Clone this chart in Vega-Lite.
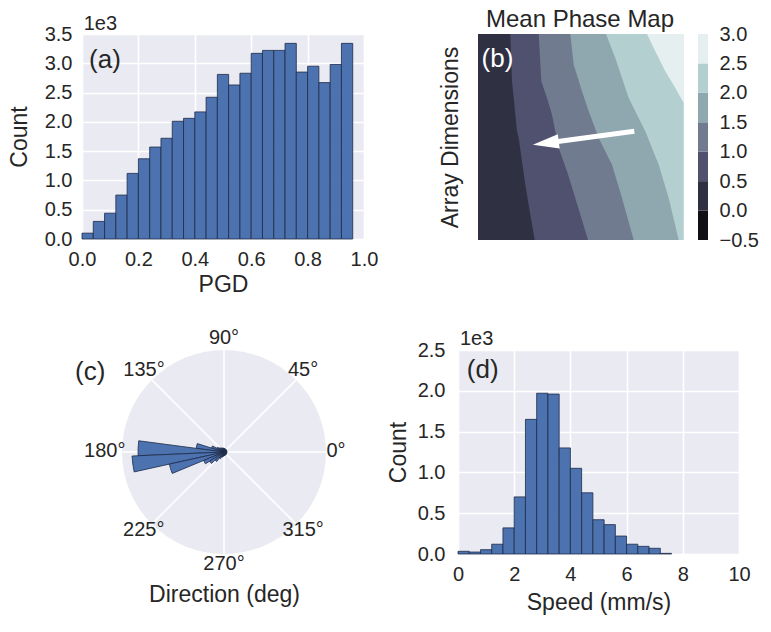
{
  "$schema": "https://vega.github.io/schema/vega-lite/v6.json",
  "padding": {"left": 8, "top": 8, "right": 5, "bottom": 5},
  "background": "white",
  "config": {
    "font": "Liberation Sans",
    "view": {"stroke": null},
    "axis": {
      "labelFont": "Liberation Sans", "titleFont": "Liberation Sans",
      "labelFontSize": 20, "titleFontSize": 23, "titleFontWeight": "normal",
      "labelColor": "#262626", "titleColor": "#262626",
      "ticks": false, "domain": false, "gridColor": "#FFFFFF", "gridWidth": 1.6,
      "labelPadding": 10, "titlePadding": 7, "labelFlush": false, "labelOverlap": false
    },
    "text": {"font": "Liberation Sans"}
  },
  "datasets": {
    "pgd": [
      {"lo": 0.00, "hi": 0.04, "count": 100}, {"lo": 0.04, "hi": 0.08, "count": 300},
      {"lo": 0.08, "hi": 0.12, "count": 440}, {"lo": 0.12, "hi": 0.16, "count": 750},
      {"lo": 0.16, "hi": 0.20, "count": 1120}, {"lo": 0.20, "hi": 0.24, "count": 1370},
      {"lo": 0.24, "hi": 0.28, "count": 1570}, {"lo": 0.28, "hi": 0.32, "count": 1720},
      {"lo": 0.32, "hi": 0.36, "count": 2010}, {"lo": 0.36, "hi": 0.40, "count": 2060},
      {"lo": 0.40, "hi": 0.44, "count": 2170}, {"lo": 0.44, "hi": 0.48, "count": 2420},
      {"lo": 0.48, "hi": 0.52, "count": 2810}, {"lo": 0.52, "hi": 0.56, "count": 2630},
      {"lo": 0.56, "hi": 0.60, "count": 2830}, {"lo": 0.60, "hi": 0.64, "count": 3170},
      {"lo": 0.64, "hi": 0.68, "count": 3220}, {"lo": 0.68, "hi": 0.72, "count": 3220},
      {"lo": 0.72, "hi": 0.76, "count": 3340}, {"lo": 0.76, "hi": 0.80, "count": 2850},
      {"lo": 0.80, "hi": 0.84, "count": 2950}, {"lo": 0.84, "hi": 0.88, "count": 2670},
      {"lo": 0.88, "hi": 0.92, "count": 2980}, {"lo": 0.92, "hi": 0.96, "count": 3340}
    ],
    "speed": [
      {"lo": 0.0, "hi": 0.4, "count": 33}, {"lo": 0.4, "hi": 0.8, "count": 24},
      {"lo": 0.8, "hi": 1.2, "count": 53}, {"lo": 1.2, "hi": 1.6, "count": 120},
      {"lo": 1.6, "hi": 2.0, "count": 320}, {"lo": 2.0, "hi": 2.4, "count": 700},
      {"lo": 2.4, "hi": 2.8, "count": 1650}, {"lo": 2.8, "hi": 3.2, "count": 1970},
      {"lo": 3.2, "hi": 3.6, "count": 1960}, {"lo": 3.6, "hi": 4.0, "count": 1300},
      {"lo": 4.0, "hi": 4.4, "count": 1050}, {"lo": 4.4, "hi": 4.8, "count": 750},
      {"lo": 4.8, "hi": 5.2, "count": 420}, {"lo": 5.2, "hi": 5.6, "count": 360},
      {"lo": 5.6, "hi": 6.0, "count": 220}, {"lo": 6.0, "hi": 6.4, "count": 120},
      {"lo": 6.4, "hi": 6.8, "count": 94}, {"lo": 6.8, "hi": 7.2, "count": 70},
      {"lo": 7.2, "hi": 7.6, "count": 8}
    ],
    "phase": [
      {"level": "2.5", "y": 0, "x": 206}, {"level": "2.5", "y": 206, "x": 206},
      {"level": "2.0", "y": 0, "x": 169}, {"level": "2.0", "y": 17.3, "x": 177.3},
      {"level": "2.0", "y": 37.3, "x": 187.3}, {"level": "2.0", "y": 54, "x": 197.3},
      {"level": "2.0", "y": 69, "x": 205.7}, {"level": "2.0", "y": 206, "x": 205.7},
      {"level": "1.5", "y": 0, "x": 128}, {"level": "1.5", "y": 24, "x": 137.3},
      {"level": "1.5", "y": 64, "x": 150.7}, {"level": "1.5", "y": 97.3, "x": 167.3},
      {"level": "1.5", "y": 130.7, "x": 180.7}, {"level": "1.5", "y": 164, "x": 190.7},
      {"level": "1.5", "y": 206, "x": 200.7},
      {"level": "1.0", "y": 0, "x": 92.3}, {"level": "1.0", "y": 30.7, "x": 95.7},
      {"level": "1.0", "y": 57.3, "x": 104}, {"level": "1.0", "y": 77.3, "x": 110.7},
      {"level": "1.0", "y": 104, "x": 120.7}, {"level": "1.0", "y": 130.7, "x": 134},
      {"level": "1.0", "y": 164, "x": 144}, {"level": "1.0", "y": 206, "x": 155.7},
      {"level": "0.5", "y": 0, "x": 60.7}, {"level": "0.5", "y": 47.3, "x": 63.3},
      {"level": "0.5", "y": 64, "x": 69}, {"level": "0.5", "y": 80.7, "x": 74},
      {"level": "0.5", "y": 114, "x": 80.7}, {"level": "0.5", "y": 137.3, "x": 89},
      {"level": "0.5", "y": 164, "x": 97.3}, {"level": "0.5", "y": 206, "x": 110},
      {"level": "0.0", "y": 0, "x": 32.3}, {"level": "0.0", "y": 47.3, "x": 34},
      {"level": "0.0", "y": 64, "x": 35.7}, {"level": "0.0", "y": 97.3, "x": 39},
      {"level": "0.0", "y": 104, "x": 40.7}, {"level": "0.0", "y": 150.7, "x": 47.3},
      {"level": "0.0", "y": 180.7, "x": 52.3}, {"level": "0.0", "y": 206, "x": 56.7}
    ],
    "cbar": [
      {"level": "-0.5", "lo": -0.5, "hi": 0.0}, {"level": "0.0", "lo": 0.0, "hi": 0.5},
      {"level": "0.5", "lo": 0.5, "hi": 1.0}, {"level": "1.0", "lo": 1.0, "hi": 1.5},
      {"level": "1.5", "lo": 1.5, "hi": 2.0}, {"level": "2.0", "lo": 2.0, "hi": 2.5},
      {"level": "2.5", "lo": 2.5, "hi": 3.0}
    ],
    "grid": [
      {"x": 0, "y": 0, "x2": 1, "y2": 0}, {"x": 0, "y": 0, "x2": 0.7071, "y2": 0.7071},
      {"x": 0, "y": 0, "x2": 0, "y2": 1}, {"x": 0, "y": 0, "x2": -0.7071, "y2": 0.7071},
      {"x": 0, "y": 0, "x2": -1, "y2": 0}, {"x": 0, "y": 0, "x2": -0.7071, "y2": -0.7071},
      {"x": 0, "y": 0, "x2": 0, "y2": -1}, {"x": 0, "y": 0, "x2": 0.7071, "y2": -0.7071}
    ],
    "clabels": [
      {"label": "0°", "x": 1.098, "y": 0.005}, {"label": "45°", "x": 0.775, "y": 0.807},
      {"label": "90°", "x": 0.0, "y": 1.118}, {"label": "135°", "x": -0.784, "y": 0.807},
      {"label": "180°", "x": -1.169, "y": 0.005}, {"label": "225°", "x": -0.787, "y": -0.768},
      {"label": "270°", "x": 0.0, "y": -1.095}, {"label": "315°", "x": 0.776, "y": -0.768}
    ],
    "dir": [
      {"lo": 2.5, "hi": 12.5, "count": 30}, {"lo": 12.5, "hi": 22.5, "count": 30},
      {"lo": 22.5, "hi": 32.5, "count": 30}, {"lo": 32.5, "hi": 42.5, "count": 30},
      {"lo": 42.5, "hi": 52.5, "count": 30}, {"lo": 52.5, "hi": 62.5, "count": 30},
      {"lo": 62.5, "hi": 72.5, "count": 30}, {"lo": 72.5, "hi": 82.5, "count": 35},
      {"lo": 82.5, "hi": 92.5, "count": 35}, {"lo": 92.5, "hi": 102.5, "count": 40},
      {"lo": 102.5, "hi": 112.5, "count": 40}, {"lo": 112.5, "hi": 122.5, "count": 45},
      {"lo": 122.5, "hi": 132.5, "count": 50}, {"lo": 132.5, "hi": 142.5, "count": 60},
      {"lo": 142.5, "hi": 152.5, "count": 80}, {"lo": 152.5, "hi": 162.5, "count": 130},
      {"lo": 162.5, "hi": 172.5, "count": 280}, {"lo": 172.5, "hi": 182.5, "count": 860},
      {"lo": 182.5, "hi": 192.5, "count": 920}, {"lo": 192.5, "hi": 202.5, "count": 560},
      {"lo": 202.5, "hi": 212.5, "count": 220}, {"lo": 212.5, "hi": 222.5, "count": 170},
      {"lo": 222.5, "hi": 232.5, "count": 120}, {"lo": 232.5, "hi": 242.5, "count": 75},
      {"lo": 242.5, "hi": 252.5, "count": 55}, {"lo": 252.5, "hi": 262.5, "count": 45},
      {"lo": 262.5, "hi": 272.5, "count": 40}, {"lo": 272.5, "hi": 282.5, "count": 35},
      {"lo": 282.5, "hi": 292.5, "count": 35}, {"lo": 292.5, "hi": 302.5, "count": 30},
      {"lo": 302.5, "hi": 312.5, "count": 30}, {"lo": 312.5, "hi": 322.5, "count": 30},
      {"lo": 322.5, "hi": 332.5, "count": 30}, {"lo": 332.5, "hi": 342.5, "count": 30},
      {"lo": 342.5, "hi": 352.5, "count": 30}, {"lo": 352.5, "hi": 362.5, "count": 30}
    ]
  },
  "columns": 2,
  "spacing": {"row": 110, "column": 92},
  "bounds": "flush",
  "concat": [
    {
      "width": 282, "height": 205,
      "view": {"fill": "#EAEAF2", "stroke": null},
      "layer": [
        {
          "data": {"name": "pgd"},
          "mark": {"type": "rect", "fill": "#4C72B0", "stroke": "#1E2B47", "strokeWidth": 0.8},
          "encoding": {
            "x": {"field": "lo", "type": "quantitative", "scale": {"domain": [0, 1]},
                  "axis": {"values": [0, 0.2, 0.4, 0.6, 0.8, 1.0], "format": ".1f", "title": "PGD", "titlePadding": 4}},
            "x2": {"field": "hi"},
            "y": {"field": "count", "type": "quantitative", "scale": {"domain": [0, 3500]},
                  "axis": {"values": [0, 500, 1000, 1500, 2000, 2500, 3000, 3500],
                           "labelExpr": "format(datum.value / 1000, '.1f')", "title": "Count", "titlePadding": 13}},
            "y2": {"datum": 0}
          }
        },
        {
          "data": {"values": [{}]},
          "mark": {"type": "text", "text": "(a)", "fontSize": 26, "color": "#262626"},
          "encoding": {
            "x": {"datum": 0.0816, "scale": {"domain": [0, 1]},
                  "axis": {"values": [0, 0.2, 0.4, 0.6, 0.8, 1.0], "format": ".1f", "title": "PGD", "titlePadding": 4}},
            "y": {"datum": 3061, "scale": {"domain": [0, 3500]},
                  "axis": {"values": [0, 500, 1000, 1500, 2000, 2500, 3000, 3500],
                           "labelExpr": "format(datum.value / 1000, '.1f')", "title": "Count", "titlePadding": 13}}
          }
        },
        {
          "data": {"values": [{}]},
          "mark": {"type": "text", "text": "1e3", "fontSize": 20, "color": "#262626", "align": "left", "baseline": "alphabetic"},
          "encoding": {
            "x": {"datum": 0.006, "scale": {"domain": [0, 1]},
                  "axis": {"values": [0, 0.2, 0.4, 0.6, 0.8, 1.0], "format": ".1f", "title": "PGD", "titlePadding": 4}},
            "y": {"datum": 3573, "scale": {"domain": [0, 3500]},
                  "axis": {"values": [0, 500, 1000, 1500, 2000, 2500, 3000, 3500],
                           "labelExpr": "format(datum.value / 1000, '.1f')", "title": "Count", "titlePadding": 13}}
          }
        }
      ]
    },
    {
      "width": 250, "height": 206,
      "resolve": {"scale": {"y": "independent"}},
      "layer": [
        {
          "data": {"name": "phase"},
          "encoding": {
            "x": {"field": "x", "type": "quantitative", "stack": null, "scale": {"domain": [-20, 230]}, "axis": null},
            "y": {"field": "y", "type": "quantitative", "scale": {"domain": [0, 206], "reverse": true},
                  "axis": {"title": "Array Dimensions", "labels": false, "grid": false, "titlePadding": -4}}
          },
          "layer": [
            {"transform": [{"filter": "datum.level == '2.5'"}], "mark": {"type": "area", "orient": "horizontal", "opacity": 1},
             "encoding": {"color": {"field": "level", "type": "nominal", "legend": null,
               "scale": {"domain": ["-0.5", "0.0", "0.5", "1.0", "1.5", "2.0", "2.5"],
                         "range": ["#101016", "#303043", "#50506F", "#707B8F", "#8FA7AF", "#B4CFCF", "#E6EFEF"]}}}},
            {"transform": [{"filter": "datum.level == '2.0'"}], "mark": {"type": "area", "orient": "horizontal", "opacity": 1},
             "encoding": {"color": {"field": "level", "type": "nominal", "legend": null}}},
            {"transform": [{"filter": "datum.level == '1.5'"}], "mark": {"type": "area", "orient": "horizontal", "opacity": 1},
             "encoding": {"color": {"field": "level", "type": "nominal", "legend": null}}},
            {"transform": [{"filter": "datum.level == '1.0'"}], "mark": {"type": "area", "orient": "horizontal", "opacity": 1},
             "encoding": {"color": {"field": "level", "type": "nominal", "legend": null}}},
            {"transform": [{"filter": "datum.level == '0.5'"}], "mark": {"type": "area", "orient": "horizontal", "opacity": 1},
             "encoding": {"color": {"field": "level", "type": "nominal", "legend": null}}},
            {"transform": [{"filter": "datum.level == '0.0'"}], "mark": {"type": "area", "orient": "horizontal", "opacity": 1},
             "encoding": {"color": {"field": "level", "type": "nominal", "legend": null}}}
          ]
        },
        {
          "data": {"name": "cbar"},
          "mark": {"type": "rect"},
          "encoding": {
            "x": {"datum": 220, "scale": {"domain": [-20, 230]}},
            "x2": {"datum": 230},
            "y": {"field": "lo", "type": "quantitative", "scale": {"domain": [-0.5, 3.0]},
                  "axis": {"orient": "right", "values": [-0.5, 0, 0.5, 1, 1.5, 2, 2.5, 3], "format": ".1f",
                           "title": null, "grid": false, "labelPadding": 11}},
            "y2": {"field": "hi"},
            "color": {"field": "level", "type": "nominal", "legend": null}
          }
        },
        {
          "data": {"values": [{}]},
          "mark": {"type": "rule", "color": "#FFFFFF", "strokeWidth": 5},
          "encoding": {
            "x": {"datum": 156.3, "scale": {"domain": [-20, 230]}},
            "y": {"datum": 97.3, "scale": {"domain": [0, 206], "reverse": true}, "axis": null},
            "x2": {"datum": 78}, "y2": {"datum": 107.7}
          }
        },
        {
          "data": {"values": [{}]},
          "mark": {"type": "point", "shape": "M-1,0L1,-0.55L1,0.55Z", "size": 680, "filled": true,
                   "fill": "#FFFFFF", "opacity": 1, "strokeWidth": 0, "angle": -7.6},
          "encoding": {
            "x": {"datum": 67.8, "scale": {"domain": [-20, 230]}},
            "y": {"datum": 109, "scale": {"domain": [0, 206], "reverse": true}, "axis": null}
          }
        },
        {
          "data": {"values": [{}]},
          "mark": {"type": "text", "text": "(b)", "fontSize": 26, "color": "#FFFFFF"},
          "encoding": {
            "x": {"datum": 19.5, "scale": {"domain": [-20, 230]}},
            "y": {"datum": 25, "scale": {"domain": [0, 206], "reverse": true}, "axis": null}
          }
        },
        {
          "data": {"values": [{}]},
          "mark": {"type": "text", "text": "Mean Phase Map", "fontSize": 24, "color": "#262626", "align": "center", "baseline": "alphabetic"},
          "encoding": {
            "x": {"datum": 102, "scale": {"domain": [-20, 230]}},
            "y": {"datum": -6.7, "scale": {"domain": [0, 206], "reverse": true}, "axis": null}
          }
        }
      ]
    },
    {
      "width": 284, "height": 204,
      "layer": [
        {
          "data": {"values": [{}]},
          "mark": {"type": "arc", "theta": 0, "theta2": 6.2832, "radius": 102, "fill": "#EAEAF2"},
          "encoding": {}
        },
        {
          "data": {"name": "grid"},
          "mark": {"type": "rule", "color": "#FFFFFF", "strokeWidth": 1.6},
          "encoding": {
            "x": {"field": "x", "type": "quantitative", "scale": {"domain": [-1.392, 1.392]},
                  "axis": {"title": "Direction (deg)", "labels": false, "grid": false, "titlePadding": 29}},
            "y": {"field": "y", "type": "quantitative", "scale": {"domain": [-1, 1]}, "axis": null},
            "x2": {"field": "x2"},
            "y2": {"field": "y2"}
          }
        },
        {
          "data": {"name": "dir"},
          "mark": {"type": "arc", "fill": "#4C72B0", "stroke": "#1E2B47", "strokeWidth": 0.8},
          "encoding": {
            "theta": {"field": "lo", "type": "quantitative", "stack": null,
                      "scale": {"domain": [0, 360], "range": [1.5708, -4.7124]}},
            "theta2": {"field": "hi"},
            "radius": {"field": "count", "type": "quantitative",
                       "scale": {"type": "linear", "domain": [0, 1020], "range": [0, 102], "zero": true}}
          }
        },
        {
          "data": {"name": "clabels"},
          "mark": {"type": "text", "fontSize": 20, "color": "#262626"},
          "encoding": {
            "x": {"field": "x", "type": "quantitative", "scale": {"domain": [-1.392, 1.392]},
                  "axis": {"title": "Direction (deg)", "labels": false, "grid": false, "titlePadding": 29}},
            "y": {"field": "y", "type": "quantitative", "scale": {"domain": [-1, 1]}, "axis": null},
            "text": {"field": "label"}
          }
        },
        {
          "data": {"values": [{}]},
          "mark": {"type": "text", "text": "(c)", "fontSize": 26, "color": "#262626"},
          "encoding": {
            "x": {"datum": -1.311, "scale": {"domain": [-1.392, 1.392]},
                  "axis": {"title": "Direction (deg)", "labels": false, "grid": false, "titlePadding": 29}},
            "y": {"datum": 0.784, "scale": {"domain": [-1, 1]}, "axis": null}
          }
        }
      ]
    },
    {
      "width": 281, "height": 204,
      "view": {"fill": "#EAEAF2", "stroke": null},
      "layer": [
        {
          "data": {"name": "speed"},
          "mark": {"type": "rect", "fill": "#4C72B0", "stroke": "#1E2B47", "strokeWidth": 0.8},
          "encoding": {
            "x": {"field": "lo", "type": "quantitative", "scale": {"domain": [0, 10]},
                  "axis": {"values": [0, 2, 4, 6, 8, 10], "format": "d", "title": "Speed (mm/s)"}},
            "x2": {"field": "hi"},
            "y": {"field": "count", "type": "quantitative", "scale": {"domain": [0, 2500]},
                  "axis": {"values": [0, 500, 1000, 1500, 2000, 2500], "labelPadding": 13,
                           "labelExpr": "format(datum.value / 1000, '.1f')", "title": "Count"}},
            "y2": {"datum": 0}
          }
        },
        {
          "data": {"values": [{}]},
          "mark": {"type": "text", "text": "(d)", "fontSize": 26, "color": "#262626"},
          "encoding": {
            "x": {"datum": 0.88, "scale": {"domain": [0, 10]},
                  "axis": {"values": [0, 2, 4, 6, 8, 10], "format": "d", "title": "Speed (mm/s)"}},
            "y": {"datum": 2257, "scale": {"domain": [0, 2500]},
                  "axis": {"values": [0, 500, 1000, 1500, 2000, 2500], "labelPadding": 13,
                           "labelExpr": "format(datum.value / 1000, '.1f')", "title": "Count"}}
          }
        },
        {
          "data": {"values": [{}]},
          "mark": {"type": "text", "text": "1e3", "fontSize": 20, "color": "#262626", "align": "left", "baseline": "alphabetic"},
          "encoding": {
            "x": {"datum": 0.07, "scale": {"domain": [0, 10]},
                  "axis": {"values": [0, 2, 4, 6, 8, 10], "format": "d", "title": "Speed (mm/s)"}},
            "y": {"datum": 2565, "scale": {"domain": [0, 2500]},
                  "axis": {"values": [0, 500, 1000, 1500, 2000, 2500], "labelPadding": 13,
                           "labelExpr": "format(datum.value / 1000, '.1f')", "title": "Count"}}
          }
        }
      ]
    }
  ]
}
